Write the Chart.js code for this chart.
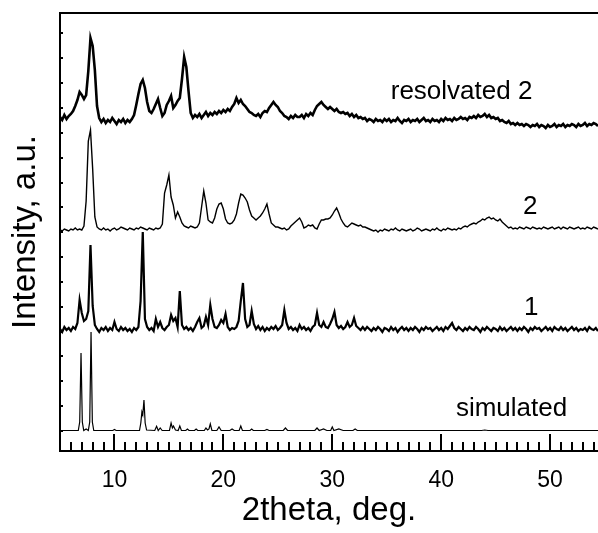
<!DOCTYPE html>
<html lang="en">
<head>
    <meta charset="UTF-8">
    <title>XRD patterns</title>
    <style>
        body {
            margin: 0;
            background: #fff;
        }
        #chartBox {
            width: 598px;
            height: 533px;
        }
    </style>
    <script src="https://cdn.jsdelivr.net/npm/chart.js"></script>
</head>
<body>
    <div id="chartBox">
        <canvas id="xrdChart" width="598" height="533"></canvas>
    </div>

    <script>
        // scan grid of the measured patterns (2theta, deg.)
        const scanStart = 5.0;
        const scanStep = 0.2;

        // measured patterns, one value per grid step (offset stacked, a.u.)
        const resolvated2 = [
            314,311,316,312,315,317,320,325,331,339,
            336,332,336,360,393,385,361,325,313,309,
            312,308,311,309,313,310,307,311,309,312,
            308,311,309,312,316,326,337,347,351,343,
            329,320,318,322,327,332,323,315,318,326,
            330,335,323,326,330,333,352,374,364,340,
            318,313,316,314,317,313,316,319,315,318,
            316,319,317,320,318,321,319,322,320,324,
            327,333,328,331,327,325,322,319,318,316,
            315,317,314,318,320,319,323,326,329,326,
            324,320,318,315,314,312,315,313,316,314,
            314,316,313,317,315,318,316,321,325,327,
            329,326,324,322,324,322,320,322,319,318,
            319,317,318,315,317,314,316,313,314,312,
            313,310,312,311,309,312,310,311,309,312,
            310,312,309,311,310,313,310,308,311,310,
            312,309,311,310,312,309,311,313,310,311,
            309,312,310,311,309,312,310,313,311,312,
            310,313,311,312,314,312,313,311,314,313,
            315,313,316,314,315,317,314,316,313,314,
            312,313,310,311,309,308,310,307,308,306,
            308,306,307,305,307,306,304,306,305,307,
            304,306,305,303,306,304,305,307,304,306,
            305,307,304,306,305,307,306,304,307,305,
            306,308,305,307,306,308,307,305,307,306
        ];

        const sample2 = [
            201,200,202,201,200,202,201,203,201,202,
            201,205,230,290,301,262,214,204,202,201,
            203,201,202,200,202,203,201,202,204,203,
            202,201,203,202,201,203,202,204,203,202,
            201,203,202,201,203,202,203,207,238,246,
            256,234,226,213,219,214,208,205,204,203,
            205,204,203,204,208,224,240,228,211,209,
            208,213,222,227,228,222,212,208,207,208,
            211,217,228,237,236,233,229,221,215,213,
            211,213,215,218,222,227,217,208,206,204,
            204,203,202,203,201,202,205,207,209,211,
            213,209,203,204,206,205,206,203,202,207,
            211,211,212,212,213,216,220,223,218,212,
            208,205,204,206,208,207,206,205,206,204,
            204,203,202,201,200,201,199,201,200,202,
            201,200,202,201,203,201,200,202,201,200,
            201,202,200,201,203,202,200,201,202,201,
            200,202,201,203,201,200,202,201,203,202,
            201,202,201,203,202,204,205,204,206,207,
            208,207,209,210,212,211,213,214,212,213,
            211,210,212,209,207,205,203,204,202,203,
            202,204,203,202,204,203,202,204,203,202,
            203,202,204,203,202,203,204,202,203,204,
            202,204,203,202,204,203,202,203,204,202,
            203,202,204,203,202,204,203,202,204,203
        ];

        const sample1 = [
            102,99,104,101,103,100,104,102,108,131,
            118,110,112,120,186,125,106,102,99,103,
            101,104,100,103,101,109,102,100,104,101,
            103,100,102,99,103,101,104,130,199,112,
            104,101,103,100,112,104,109,103,101,104,
            106,116,110,113,104,140,106,102,104,101,
            103,100,104,109,113,103,105,114,106,126,
            112,104,103,106,111,108,117,104,101,103,
            102,104,110,130,148,112,104,106,120,107,
            102,105,101,104,100,103,101,104,102,105,
            101,103,106,121,108,102,104,101,103,100,
            106,102,104,101,103,100,104,106,118,106,
            104,109,104,103,107,112,119,106,103,105,
            102,104,109,104,106,113,105,103,101,104,
            101,104,102,100,103,101,104,102,99,103,
            102,100,104,101,103,99,102,104,101,103,
            100,103,101,104,102,99,103,101,104,102,
            103,100,102,104,101,103,100,104,102,105,
            108,103,101,104,102,100,103,101,104,102,
            101,104,102,99,103,101,104,102,100,103,
            102,100,104,101,103,100,102,104,101,103,
            100,103,101,104,102,99,103,101,104,102,
            103,100,102,104,101,103,100,104,102,101,
            104,101,103,100,102,104,101,103,100,102,
            101,103,100,104,102,101,103,100,102,104
        ];

        // simulated pattern: [2theta, intensity] pairs
        const simulated = [
            [5.00, 0.5],
            [6.68, 0.5], [6.81, 9], [6.93, 78], [7.05, 9], [7.18, 0.5],
            [7.40, 2],
            [7.60, 0.5], [7.73, 9], [7.85, 99], [7.97, 9], [8.10, 0.5],
            [9.85, 0.5], [10.00, 1.5], [10.15, 0.5],
            [12.30, 0.5], [12.42, 8], [12.52, 19], [12.60, 16], [12.71, 31], [12.82, 8], [12.95, 1],
            [13.70, 0.5], [13.87, 4.7], [14.02, 0.5], [14.20, 3], [14.38, 0.5],
            [15.05, 0.5], [15.20, 8], [15.32, 3], [15.42, 5], [15.60, 1],
            [15.85, 0.5], [16.00, 5], [16.15, 0.5],
            [16.55, 0.5], [16.70, 2], [16.85, 0.5],
            [17.35, 0.5], [17.50, 2], [17.65, 0.5],
            [18.25, 0.5], [18.40, 3], [18.55, 1], [18.68, 2], [18.80, 7], [18.95, 0.5],
            [19.40, 0.5], [19.60, 4], [19.80, 0.5],
            [20.60, 0.5], [20.80, 2], [21.00, 0.5],
            [21.45, 0.5], [21.60, 5], [21.75, 0.5],
            [22.45, 0.5], [22.60, 2], [22.75, 0.5],
            [23.80, 0.5], [24.00, 1.5], [24.20, 0.5],
            [25.50, 0.5], [25.70, 3], [25.90, 0.5],
            [28.40, 0.5], [28.60, 3], [28.80, 0.5],
            [29.20, 2], [29.50, 0.5],
            [29.85, 0.5], [30.00, 4], [30.15, 0.5],
            [30.60, 2], [31.00, 0.5],
            [31.90, 0.5], [32.10, 2], [32.30, 0.5],
            [37.00, 0.5], [43.70, 0.5], [44.00, 1], [44.30, 0.5],
            [54.40, 0.5]
        ];

        // text next to each curve: [text, 2theta, level]
        const curveLabels = [
            ['resolvated 2', 35.37, 332],
            ['2', 47.52, 217],
            ['1', 47.6, 116],
            ['simulated', 41.35, 15]
        ];

        const xTickValues = [];
        for (let v = 5; v <= 54; v++) xTickValues.push(v);
        const yTickValues = [];
        for (let k = 0; k <= 16; k++) yTickValues.push(k * 24.85);

        const font = "'Liberation Sans', Arial, sans-serif";

        function onGrid(values) {
            return values.map((v, i) => ({ x: scanStart + i * scanStep, y: v }));
        }

        // box top line, inward tick marks and curve names
        const framePlugin = {
            id: 'framePlugin',
            afterDraw(chart) {
                const { ctx, chartArea: a, scales: { x, y } } = chart;
                ctx.save();
                ctx.strokeStyle = '#000';
                ctx.lineWidth = 2;
                ctx.beginPath();
                ctx.moveTo(a.left - 1, a.top);
                ctx.lineTo(a.right, a.top);
                x.ticks.forEach(t => {
                    if (t.value <= x.min) return;
                    const px = Math.round(x.getPixelForValue(t.value));
                    const len = t.value % 10 === 0 ? 17 : 9;
                    ctx.moveTo(px, a.bottom);
                    ctx.lineTo(px, a.bottom - len);
                });
                y.ticks.forEach(t => {
                    const py = Math.round(y.getPixelForValue(t.value));
                    ctx.moveTo(a.left, py);
                    ctx.lineTo(a.left + 3, py);
                });
                ctx.stroke();

                ctx.fillStyle = '#000';
                ctx.font = '26px ' + font;
                ctx.textAlign = 'left';
                ctx.textBaseline = 'alphabetic';
                curveLabels.forEach(([text, tt, level]) => {
                    ctx.fillText(text, x.getPixelForValue(tt), y.getPixelForValue(level));
                });
                ctx.restore();
            }
        };

        const line = (data, width) => ({
            data: data,
            borderColor: '#000',
            borderWidth: width,
            pointRadius: 0,
            tension: 0,
            fill: false
        });

        new Chart(document.getElementById('xrdChart'), {
            type: 'line',
            data: {
                datasets: [
                    line(onGrid(resolvated2), 2.6),
                    line(onGrid(sample2), 1.4),
                    line(onGrid(sample1), 2.2),
                    line(simulated.map(([x, y]) => ({ x, y })), 1.2)
                ]
            },
            options: {
                responsive: false,
                animation: false,
                devicePixelRatio: 1,
                layout: { padding: { top: 13, right: 0, bottom: 0, left: 0 } },
                plugins: {
                    legend: { display: false },
                    tooltip: { enabled: false }
                },
                scales: {
                    x: {
                        type: 'linear',
                        min: 5,
                        max: 54.4,
                        grid: { display: false, drawTicks: false },
                        border: { display: true, color: '#000', width: 2 },
                        afterBuildTicks: s => { s.ticks = xTickValues.map(v => ({ value: v })); },
                        afterFit: s => {
                            s.height = 82;
                            s.paddingLeft = 0;
                            s.paddingRight = 0;
                        },
                        ticks: {
                            autoSkip: false,
                            maxRotation: 0,
                            padding: 16,
                            color: '#000',
                            font: { family: font, size: 23 },
                            callback: v => (v % 10 === 0 ? String(v) : '')
                        },
                        title: {
                            display: true,
                            text: '2theta, deg.',
                            color: '#000',
                            font: { family: font, size: 33 },
                            padding: { top: 0, bottom: 2 }
                        }
                    },
                    y: {
                        type: 'linear',
                        min: -20,
                        max: 418,
                        grid: { display: false, drawTicks: false },
                        border: { display: true, color: '#000', width: 2 },
                        afterBuildTicks: s => { s.ticks = yTickValues.map(v => ({ value: v })); },
                        afterFit: s => { s.width = 60; },
                        ticks: { display: false },
                        title: {
                            display: true,
                            text: 'Intensity, a.u.',
                            color: '#000',
                            font: { family: font, size: 33 },
                            padding: { top: 6, bottom: 0 }
                        }
                    }
                }
            },
            plugins: [framePlugin]
        });
    </script>
</body>
</html>
